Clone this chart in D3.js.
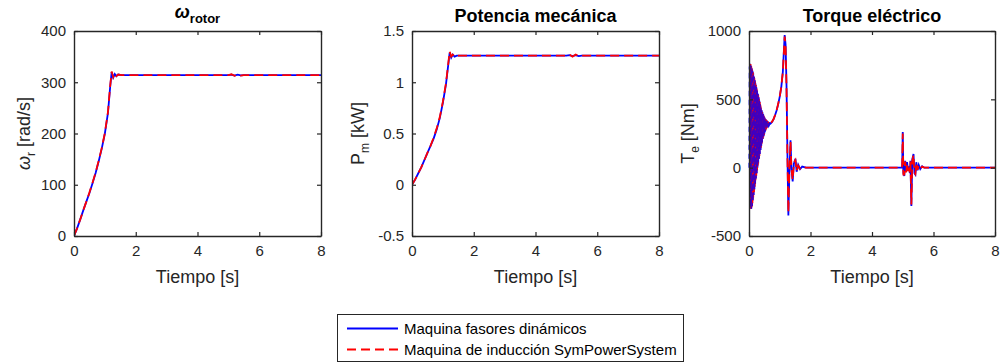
<!DOCTYPE html>
<html>
<head>
<meta charset="utf-8">
<script src="https://cdn.jsdelivr.net/npm/d3@7"></script>
<style>
  body { margin: 0; background: #fff; }
  svg { font-family: "Liberation Sans", Arial, sans-serif; }
</style>
</head>
<body>
<div id="canvas"></div>
<script>
// ---- data ----
const timeTicks = [0, 2, 4, 6, 8];

// rotor speed [rad/s]
const speedDyn = [[0,0],[0.1,15],[0.2,32],[0.3,50],[0.4,67],[0.5,84],[0.6,103],[0.7,123],[0.8,146],[0.9,171],[1.0,200],[1.1,240],[1.17,290],[1.22,320],[1.27,309],[1.32,316],[1.37,312],[1.43,315],[1.55,314],[5.0,314],[5.1,315],[5.2,313],[5.3,315],[5.4,313.5],[5.5,314],[8,314]];
const speedSPS = [[0,0],[0.1,15],[0.2,32],[0.3,50],[0.4,67],[0.5,85],[0.6,104],[0.7,124],[0.8,147],[0.9,172],[1.0,201],[1.1,242],[1.17,292],[1.22,321],[1.27,310],[1.32,317],[1.37,312],[1.43,315],[1.55,314],[5.0,314],[5.1,315.5],[5.2,312.5],[5.3,315.5],[5.4,313],[5.5,314],[8,314]];

// mechanical power [kW]
const powerDyn = [[0,0],[0.1,0.05],[0.2,0.11],[0.3,0.17],[0.4,0.24],[0.5,0.31],[0.6,0.38],[0.7,0.45],[0.8,0.54],[0.9,0.65],[1.0,0.8],[1.1,0.98],[1.17,1.16],[1.22,1.29],[1.27,1.24],[1.32,1.27],[1.38,1.25],[1.45,1.26],[5.0,1.26],[5.1,1.265],[5.2,1.255],[5.3,1.265],[5.4,1.255],[5.5,1.26],[8,1.26]];
const powerSPS = [[0,0],[0.1,0.05],[0.2,0.11],[0.3,0.17],[0.4,0.24],[0.5,0.31],[0.6,0.38],[0.7,0.46],[0.8,0.55],[0.9,0.66],[1.0,0.81],[1.1,0.99],[1.17,1.17],[1.22,1.3],[1.27,1.25],[1.32,1.27],[1.38,1.25],[1.45,1.26],[5.0,1.26],[5.1,1.27],[5.2,1.25],[5.3,1.27],[5.4,1.255],[5.5,1.26],[8,1.26]];

// electric torque [Nm]
const torqueDyn = [[0,0],[0.0125,740],[0.025,-220],[0.0375,760],[0.05,-290],[0.0625,745],[0.075,-300],[0.0875,730],[0.1,-280],[0.1125,710],[0.125,-240],[0.1375,690],[0.15,-200],[0.1625,665],[0.175,-160],[0.1875,640],[0.2,-120],[0.2125,615],[0.225,-80],[0.2375,590],[0.25,-40],[0.2625,565],[0.275,0],[0.2875,540],[0.3,30],[0.3125,515],[0.325,65],[0.3375,490],[0.35,100],[0.3625,465],[0.375,130],[0.3875,440],[0.4,160],[0.4125,420],[0.425,185],[0.4375,405],[0.45,210],[0.4625,390],[0.475,230],[0.4875,375],[0.5,250],[0.5125,365],[0.525,265],[0.5375,355],[0.55,280],[0.5625,348],[0.575,290],[0.5875,342],[0.6,300],[0.6125,338],[0.625,306],[0.6375,334],[0.65,312],[0.675,325],[0.7,322],[0.75,335],[0.8,355],[0.85,385],[0.9,420],[0.95,465],[1.0,520],[1.05,590],[1.1,700],[1.14,880],[1.16,970],[1.19,900],[1.22,600],[1.25,100],[1.28,-350],[1.31,-60],[1.35,200],[1.38,0],[1.42,-100],[1.46,30],[1.51,65],[1.55,-30],[1.6,20],[1.66,-10],[1.73,8],[1.85,0],[4.98,0],[5.0,260],[5.02,-40],[5.05,-60],[5.08,50],[5.11,-30],[5.14,40],[5.17,-20],[5.2,10],[5.23,-40],[5.25,50],[5.28,-280],[5.31,60],[5.35,100],[5.38,-40],[5.41,-50],[5.44,40],[5.48,-20],[5.52,20],[5.57,-10],[5.63,10],[5.7,0],[8,0]];
const torqueSPS = [[0,0],[0.0125,-180],[0.025,750],[0.0375,-260],[0.05,760],[0.0625,-300],[0.075,740],[0.0875,-290],[0.1,720],[0.1125,-260],[0.125,700],[0.1375,-220],[0.15,680],[0.1625,-180],[0.175,655],[0.1875,-140],[0.2,630],[0.2125,-100],[0.225,605],[0.2375,-60],[0.25,580],[0.2625,-20],[0.275,555],[0.2875,15],[0.3,530],[0.3125,50],[0.325,505],[0.3375,85],[0.35,480],[0.3625,115],[0.375,455],[0.3875,145],[0.4,430],[0.4125,175],[0.425,412],[0.4375,200],[0.45,398],[0.4625,220],[0.475,382],[0.4875,240],[0.5,370],[0.5125,258],[0.525,360],[0.5375,272],[0.55,352],[0.5625,285],[0.575,345],[0.5875,295],[0.6,340],[0.6125,303],[0.625,336],[0.6375,309],[0.65,330],[0.675,318],[0.7,325],[0.75,336],[0.8,356],[0.85,386],[0.9,422],[0.95,467],[1.0,522],[1.05,592],[1.1,702],[1.14,870],[1.16,960],[1.19,890],[1.22,590],[1.25,80],[1.28,-330],[1.31,-40],[1.35,190],[1.38,-10],[1.42,-90],[1.46,35],[1.51,55],[1.55,-25],[1.6,15],[1.66,-8],[1.73,6],[1.85,0],[4.98,0],[5.0,250],[5.02,-50],[5.05,-50],[5.08,45],[5.11,-35],[5.14,35],[5.17,-25],[5.2,15],[5.23,-35],[5.25,45],[5.28,-270],[5.31,50],[5.35,95],[5.38,-35],[5.41,-45],[5.44,35],[5.48,-15],[5.52,15],[5.57,-8],[5.63,8],[5.7,0],[8,0]];

const legendLabels = ["Maquina fasores dinámicos", "Maquina de inducción SymPowerSystem"];

// ---- drawing ----
const W = 1000, H = 364;
const svg = d3.select("#canvas").append("svg").attr("width", W).attr("height", H);
const axisColor = "#262626";
const dash = "9,5";

const panels = [
  { left: 74, right: 321, domain: [0, 400], ticks: [0, 100, 200, 300, 400],
    dyn: speedDyn, sps: speedSPS, title: "rotor", ylab: ["ω", "r", " [rad/s]"], labX: 30 },
  { left: 412, right: 659, domain: [-0.5, 1.5], ticks: [-0.5, 0, 0.5, 1, 1.5],
    dyn: powerDyn, sps: powerSPS, title: "Potencia mecánica", ylab: ["P", "m", " [kW]"], labX: 364 },
  { left: 749, right: 995, domain: [-500, 1000], ticks: [-500, 0, 500, 1000],
    dyn: torqueDyn, sps: torqueSPS, title: "Torque eléctrico", ylab: ["T", "e", " [Nm]"], labX: 694, dense: 0.7 }
];
const yTop = 31, yBottom = 236;

panels.forEach((p, i) => {
  const x = d3.scaleLinear().domain([0, 8]).range([p.left, p.right]);
  const y = d3.scaleLinear().domain(p.domain).range([yBottom, yTop]);
  const g = svg.append("g");

  const clipId = "clip" + i;
  svg.append("clipPath").attr("id", clipId).append("rect")
    .attr("x", p.left).attr("y", yTop - 2).attr("width", p.right - p.left).attr("height", yBottom - yTop + 4);

  const line = d3.line().x(d => x(d[0])).y(d => y(d[1]));
  g.append("path").datum(p.dyn).attr("d", line).attr("clip-path", `url(#${clipId})`)
    .attr("fill", "none").attr("stroke", "#0000ff").attr("stroke-width", 1.8);
  g.append("path").datum(p.sps).attr("d", line).attr("clip-path", `url(#${clipId})`)
    .attr("fill", "none").attr("stroke", "#ff0000").attr("stroke-width", 1.8)
    .attr("stroke-dasharray", dash);
  if (p.dense) {
    // fast start-up oscillation: both traces tangle, let blue show through
    g.append("path").datum(p.dyn.filter(d => d[0] <= p.dense)).attr("d", line)
      .attr("fill", "none").attr("stroke", "#0000ff").attr("stroke-width", 1.4)
      .attr("stroke-opacity", 0.75).attr("stroke-dasharray", "5,4");
  }

  // axes with inner ticks, box on
  const axB = d3.axisBottom(x).tickValues(timeTicks).tickSizeInner(-4).tickSizeOuter(0).tickPadding(9);
  const axT = d3.axisTop(x).tickValues(timeTicks).tickSizeInner(-4).tickSizeOuter(0).tickFormat("");
  const axL = d3.axisLeft(y).tickValues(p.ticks).tickSizeInner(-4).tickSizeOuter(0).tickPadding(8).tickFormat(d => String(d));
  const axR = d3.axisRight(y).tickValues(p.ticks).tickSizeInner(-4).tickSizeOuter(0).tickFormat("");
  [[axB, `translate(0,${yBottom})`], [axT, `translate(0,${yTop})`], [axL, `translate(${p.left},0)`], [axR, `translate(${p.right},0)`]]
    .forEach(([ax, tr]) => {
      const a = g.append("g").attr("transform", tr).call(ax);
      a.select(".domain").attr("stroke", axisColor).attr("stroke-width", 1.4);
      a.selectAll(".tick line").attr("stroke", axisColor).attr("stroke-width", 1.2);
      a.selectAll("text").attr("fill", axisColor).attr("font-size", 15)
        .attr("font-family", "Liberation Sans, Arial, sans-serif");
    });

  // x label
  g.append("text").attr("x", (p.left + p.right) / 2).attr("y", 283)
    .attr("text-anchor", "middle").attr("font-size", 18).attr("fill", axisColor).text("Tiempo [s]");

  // y label
  const yl = g.append("text").attr("transform", `translate(${p.labX},${(yTop + yBottom) / 2}) rotate(-90)`)
    .attr("text-anchor", "middle").attr("font-size", 18).attr("fill", axisColor);
  yl.append("tspan").attr("font-style", i === 0 ? "italic" : "normal").text(p.ylab[0]);
  yl.append("tspan").attr("font-size", 12).attr("dy", 5).text(p.ylab[1]);
  yl.append("tspan").attr("dy", -5).text(p.ylab[2]);

  // title
  const t = g.append("text").attr("x", (p.left + p.right) / 2).attr("y", 22)
    .attr("text-anchor", "middle").attr("font-size", 18).attr("font-weight", "bold").attr("fill", "#000");
  if (i === 0) {
    t.attr("y", 18);
    t.append("tspan").attr("font-style", "italic").text("ω");
    t.append("tspan").attr("font-size", 13).attr("dy", 5).text(p.title);
  } else {
    t.text(p.title);
  }
});

// legend
const lg = svg.append("g");
lg.append("rect").attr("x", 337.5).attr("y", 314.5).attr("width", 346).attr("height", 47)
  .attr("fill", "#fff").attr("stroke", axisColor).attr("stroke-width", 1);
const legendStyles = [{ c: "#0000ff", dash: null }, { c: "#ff0000", dash: dash }];
legendLabels.forEach((lab, k) => {
  const cy = 328.5 + k * 21;
  lg.append("line").attr("x1", 347).attr("x2", 398).attr("y1", cy).attr("y2", cy)
    .attr("stroke", legendStyles[k].c).attr("stroke-width", 2)
    .attr("stroke-dasharray", legendStyles[k].dash);
  lg.append("text").attr("x", 404).attr("y", cy + 5.5).attr("font-size", 15).attr("fill", "#000").text(lab);
});
</script>
</body>
</html>
